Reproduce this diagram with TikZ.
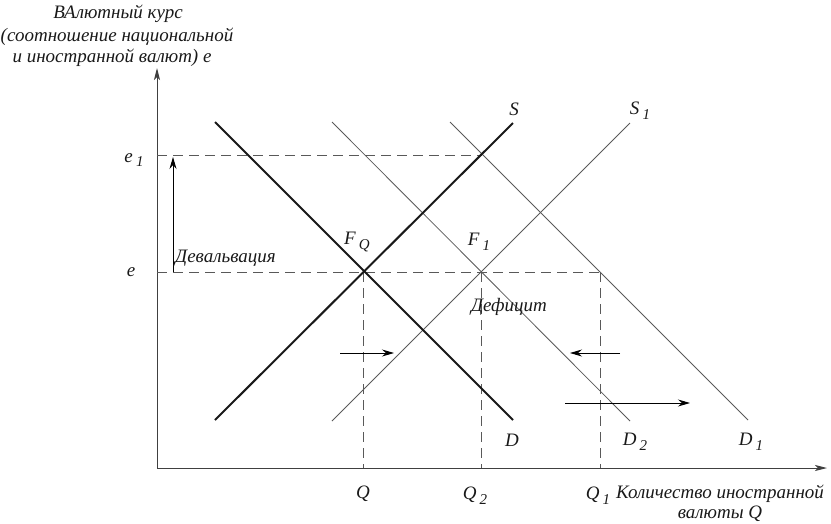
\documentclass[tikz,border=0pt]{standalone}
\usepackage{fontspec}
\setmainfont{Liberation Serif}[FakeStretch=1.0]
\usetikzlibrary{arrows.meta}
\newcommand\sbs[1]{\,\raisebox{-0.55ex}{\fontsize{15}{15}\selectfont #1}}
\tikzset{
  lbl/.style={font=\itshape\fontsize{19}{22}\selectfont, text=black!90, inner sep=0pt},
  axis/.style={line width=1pt, draw=black!75, -{Stealth[length=12pt,width=6pt,inset=3pt]}},
  thickline/.style={line width=2pt, draw=black!90},
  thinline/.style={line width=0.8pt, draw=black!65},
  guide/.style={line width=0.9pt, draw=black!65, dash pattern=on 10pt off 6pt},
  movearrow/.style={line width=0.9pt, draw=black, -{Stealth[length=12pt,width=7pt,inset=4pt]}}
}
\begin{document}
\begin{tikzpicture}[x=1pt,y=-1pt]
\useasboundingbox (0,0) rectangle (831,523);
% axes
\coordinate (O) at (157,468);
\coordinate (Ytop) at (157,68);
\coordinate (Xend) at (827,468);
\draw[axis] (O) -- (Ytop);
\draw[axis] (O) -- (Xend);
% key points
\coordinate (FQ) at (363,272);
\coordinate (F1) at (481,272);
\coordinate (G) at (600,272);
\coordinate (H) at (482,155);
\coordinate (Ee) at (157,272);
\coordinate (Ee1) at (157,155);
\coordinate (Qx) at (363,468);
\coordinate (Q2x) at (481,468);
\coordinate (Q1x) at (600,468);
% guides
\draw[guide] (Ee1) -- (H);
\draw[guide] (Ee) -- (G);
\draw[guide] (FQ) -- (Qx);
\draw[guide] (F1) -- (Q2x);
\draw[guide] (G) -- (Q1x);
% curves
\coordinate (Sa) at (215,420); \coordinate (Sb) at (513,123);
\coordinate (Da) at (215,122); \coordinate (Db) at (513,420);
\coordinate (S1a) at (332,421); \coordinate (S1b) at (630,123);
\coordinate (D2a) at (332,122); \coordinate (D2b) at (630,421);
\coordinate (D1a) at (450,122); \coordinate (D1b) at (748,420);
\draw[thinline] (S1a) -- (S1b);
\draw[thinline] (D2a) -- (D2b);
\draw[thinline] (D1a) -- (D1b);
\draw[thickline] (Sa) -- (Sb);
\draw[thickline] (Da) -- (Db);
% devaluation arrow
\coordinate (Va) at (173,272);
\coordinate (Vb) at (173,157);
\draw[movearrow] (Va) -- (Vb);
% shift arrows
\coordinate (A1a) at (340,353); \coordinate (A1b) at (394,353);
\coordinate (A2a) at (620,353); \coordinate (A2b) at (570,353);
\coordinate (A3a) at (565,403); \coordinate (A3b) at (690,403);
\draw[movearrow] (A1a) -- (A1b);
\draw[movearrow] (A2a) -- (A2b);
\draw[movearrow] (A3a) -- (A3b);
% labels
\node[lbl] (ylab1) at (118,14) {ВАлютный курс};
\node[lbl] (ylab2) at (117,37) {(соотношение национальной};
\node[lbl] (ylab3) at (112,58) {и иностранной валют) e};
\node[lbl] (le1) at (134,160) {e\sbs{1}};
\node[lbl] (le) at (131,272) {e};
\node[lbl] (lS) at (514,109) {S};
\node[lbl] (lS1) at (640,111) {S\sbs{1}};
\node[lbl] (lFQ) at (357,242) {F\sbs{Q}};
\node[lbl] (lF1) at (479,242) {F\sbs{1}};
\node[lbl, anchor=west] (ldev) at (175,258) {Девальвация};
\node[lbl] (ldef) at (509,307) {Дефицит};
\node[lbl] (lD) at (512,440) {D};
\node[lbl] (lD2) at (635,442) {D\sbs{2}};
\node[lbl] (lD1) at (751,442) {D\sbs{1}};
\node[lbl] (lQ) at (363,494) {Q};
\node[lbl] (lQ2) at (475,496) {Q\sbs{2}};
\node[lbl] (lQ1) at (598,496) {Q\sbs{1}};
\node[lbl, anchor=west] (lx1) at (616,494) {Количество иностранной};
\node[lbl] (lx2) at (720,514) {валюты Q};
\end{tikzpicture}
\end{document}
